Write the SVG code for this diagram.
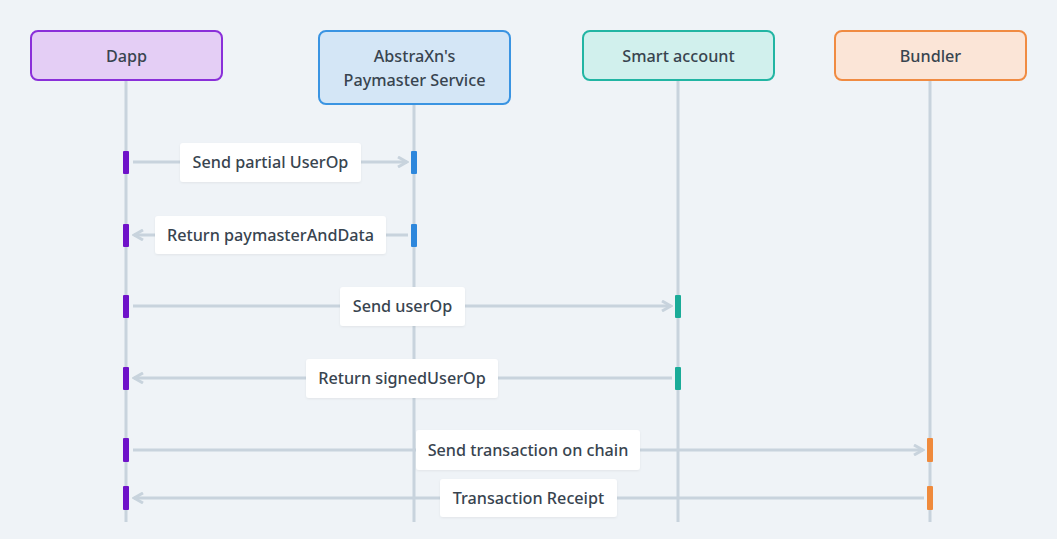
<svg xmlns="http://www.w3.org/2000/svg" width="1057" height="539" viewBox="0 0 1057 539">
<defs>
<marker id="ah" markerWidth="12" markerHeight="12" refX="10" refY="6" orient="auto" markerUnits="userSpaceOnUse">
<path d="M1,1 L10,6 L1,11" fill="none" stroke="#c8d3dd" stroke-width="3" stroke-linejoin="miter"/>
</marker>
<filter id="sh" x="-10%" y="-20%" width="120%" height="150%">
<feDropShadow dx="0" dy="1" stdDeviation="1" flood-color="#000" flood-opacity="0.06"/>
</filter>
</defs>
<style>
text{font-family:"Noto Sans","Open Sans","Liberation Sans",sans-serif;font-size:16.2px;font-weight:500;fill:#38444f;text-anchor:middle;}
.life{stroke:#c8d3dd;stroke-width:3;fill:none;}
.msg{stroke:#c8d3dd;stroke-width:3;fill:none;}
.lbl{fill:#ffffff;filter:url(#sh);}
.node{stroke-width:2;}
</style>
<rect width="1057" height="539" fill="#eff3f7"/>
<g id="lifelines">
<line class="life" x1="126" y1="80" x2="126" y2="522"/>
<line class="life" x1="414" y1="104" x2="414" y2="522"/>
<line class="life" x1="678" y1="80" x2="678" y2="522"/>
<line class="life" x1="930" y1="80" x2="930" y2="522"/>
</g>
<g id="node-dapp">
<rect class="node" x="31" y="31" width="191" height="49" rx="7" fill="#e4cef5" stroke="#8a2fd9"/>
<text x="126.5" y="62">Dapp</text>
</g>
<g id="node-paymaster">
<rect class="node" x="319" y="31" width="191" height="73" rx="7" fill="#d4e6f6" stroke="#3a94e2"/>
<text x="414.5" y="62">AbstraXn's</text>
<text x="414.5" y="86">Paymaster Service</text>
</g>
<g id="node-smart">
<rect class="node" x="583" y="31" width="191" height="49" rx="7" fill="#d1f0ed" stroke="#22b5a3"/>
<text x="678.5" y="62">Smart account</text>
</g>
<g id="node-bundler">
<rect class="node" x="835" y="31" width="191" height="49" rx="7" fill="#fbe5d7" stroke="#f08b42"/>
<text x="930.5" y="62">Bundler</text>
</g>
<g id="connectors">
<line class="msg" x1="133" y1="162" x2="407" y2="162" marker-end="url(#ah)"/>
<line class="msg" x1="408" y1="235" x2="134" y2="235" marker-end="url(#ah)"/>
<line class="msg" x1="133" y1="306" x2="671" y2="306" marker-end="url(#ah)"/>
<line class="msg" x1="672" y1="378" x2="134" y2="378" marker-end="url(#ah)"/>
<line class="msg" x1="133" y1="450" x2="923" y2="450" marker-end="url(#ah)"/>
<line class="msg" x1="924" y1="498" x2="134" y2="498" marker-end="url(#ah)"/>
</g>
<g id="activations">
<rect x="123" y="151" width="6" height="23" rx="1" fill="#6f12c9"/>
<rect x="411" y="151" width="6" height="23" rx="1" fill="#2e87dc"/>
<rect x="123" y="224" width="6" height="23" rx="1" fill="#6f12c9"/>
<rect x="411" y="224" width="6" height="23" rx="1" fill="#2e87dc"/>
<rect x="123" y="295" width="6" height="23" rx="1" fill="#6f12c9"/>
<rect x="675" y="295" width="6" height="23" rx="1" fill="#1aab98"/>
<rect x="123" y="367" width="6" height="23" rx="1" fill="#6f12c9"/>
<rect x="675" y="367" width="6" height="23" rx="1" fill="#1aab98"/>
<rect x="123" y="438" width="6" height="24" rx="1" fill="#6f12c9"/>
<rect x="927" y="438" width="6" height="24" rx="1" fill="#ef8a3c"/>
<rect x="123" y="486" width="6" height="24" rx="1" fill="#6f12c9"/>
<rect x="927" y="486" width="6" height="24" rx="1" fill="#ef8a3c"/>
</g>
<g id="labels">
<rect class="lbl" x="180" y="143" width="181" height="39" rx="3"/>
<text x="270.5" y="168">Send partial UserOp</text>
<rect class="lbl" x="155" y="216" width="231" height="38" rx="3"/>
<text x="270.5" y="241">Return paymasterAndData</text>
<rect class="lbl" x="340" y="287" width="125" height="39" rx="3"/>
<text x="402.5" y="312">Send userOp</text>
<rect class="lbl" x="306" y="359" width="192" height="39" rx="3"/>
<text x="402" y="384">Return signedUserOp</text>
<rect class="lbl" x="416" y="430" width="224" height="40" rx="3"/>
<text x="528" y="456">Send transaction on chain</text>
<rect class="lbl" x="440" y="479" width="177" height="38" rx="3"/>
<text x="528.5" y="504">Transaction Receipt</text>
</g>
</svg>
